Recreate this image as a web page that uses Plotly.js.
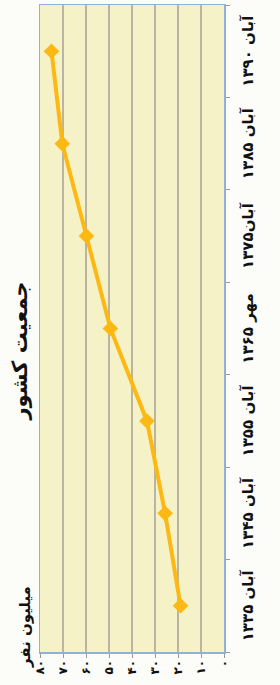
<!DOCTYPE html>
<html>
<head>
<meta charset="utf-8">
<script src="https://cdn.plot.ly/plotly-3.0.1.min.js"></script>
<style>
html,body{margin:0;padding:0;background:#fcfcf8;width:280px;height:685px;overflow:hidden;}
#chart{position:absolute;left:0;top:0;width:685px;height:280px;transform-origin:0 0;}
</style>
</head>
<body>
<div id="chart"></div>
<script>
const categories = ["آبان ۱۳۳۵","آبان ۱۳۴۵","آبان ۱۳۵۵","مهر ۱۳۶۵","آبان۱۳۷۵","آبان ۱۳۸۵","آبان ۱۳۹۰"];
const population = [18.9, 25.6, 33.5, 49.4, 59.8, 70.3, 75.0];
const valueTicks = [0,10,20,30,40,50,60,70,80];
const valueTickLabels = ["۰","۱۰","۲۰","۳۰","۴۰","۵۰","۶۰","۷۰","۸۰"];
const titleText = "جمعیت کشور";
const unitText = "میلیون نفر";

const fontFam = "DejaVu Sans, Noto Sans, sans-serif";

const trace = {
  x: categories,
  y: population,
  type: "scatter",
  mode: "lines+markers",
  line: {color: "#FDB813", width: 4},
  marker: {symbol: "diamond", size: 12, color: "#FDB813"},
  hoverinfo: "skip"
};

const layout = {
  width: 685,
  height: 280,
  margin: {l: 33, r: 5, t: 40, b: 56, pad: 0},
  paper_bgcolor: "#fcfcf8",
  plot_bgcolor: "#f5f2c8",
  showlegend: false,
  title: {
    text: titleText,
    font: {family: fontFam, size: 21, color: "#111", weight: "bold"},
    x: 0.466, xref: "paper", xanchor: "center",
    y: 0.93, yref: "container", yanchor: "middle"
  },
  xaxis: {
    type: "category",
    categoryorder: "array",
    categoryarray: categories,
    range: [-0.5, 6.5],
    tickson: "boundaries",
    ticks: "outside",
    ticklen: 4,
    tickcolor: "#9a9a9a",
    showgrid: false,
    showline: true,
    linecolor: "#8fb1d8",
    linewidth: 1.5,
    mirror: true,
    tickfont: {family: fontFam, size: 15, color: "#111", weight: "bold"},
    ticklabelstandoff: 9,
    zeroline: false
  },
  yaxis: {
    range: [0, 80],
    tickvals: valueTicks,
    ticktext: valueTickLabels,
    ticks: "outside",
    ticklen: 4,
    tickcolor: "#9a9a9a",
    showgrid: true,
    gridcolor: "#bab4a2",
    gridwidth: 1.5,
    showline: true,
    linecolor: "#8fb1d8",
    linewidth: 1.5,
    mirror: true,
    zeroline: false,
    tickfont: {family: fontFam, size: 12, color: "#111", weight: "bold"}
  },
  annotations: [{
    text: unitText,
    xref: "paper", yref: "paper",
    x: -0.028, y: 1.08,
    xanchor: "left", yanchor: "middle",
    showarrow: false,
    font: {family: fontFam, size: 15, color: "#111", weight: "bold"}
  }]
};

const gd = document.getElementById("chart");
Plotly.newPlot(gd, [trace], layout, {displayModeBar: false, staticPlot: true}).then(function () {
  gd.style.transform = "translate(0,685px) rotate(-90deg)";
});
</script>
</body>
</html>
